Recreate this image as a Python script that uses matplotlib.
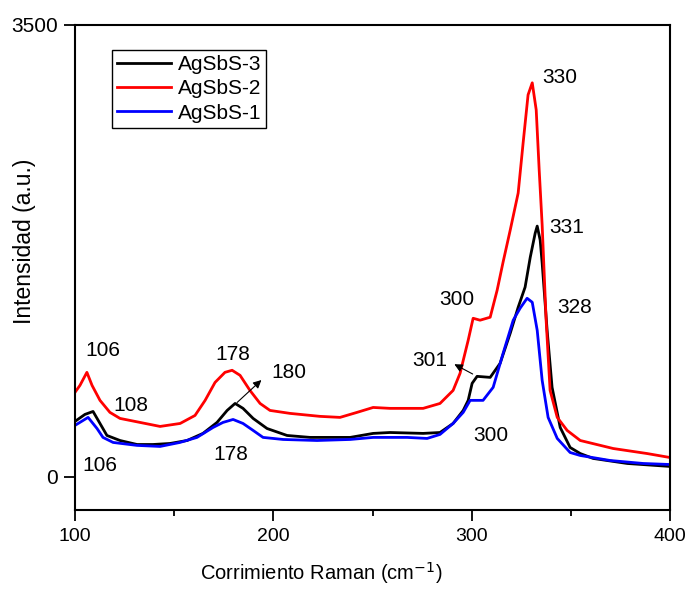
import matplotlib
matplotlib.use("Agg")
from matplotlib import pyplot as plt

plt.rcParams["font.family"] = ["Liberation Sans", "DejaVu Sans"]

# AgSbS-2 (red)
x_red = [100, 102.5, 106, 108.6, 112.6, 117.6, 122.7, 132.8, 142.9, 153, 160.5,
         165.6, 170.6, 175.6, 179.2, 183.2, 188.2, 193.3, 198.3, 208.4, 223.5,
         233.6, 242.2, 250.3, 258.8, 275.5, 284, 290.6, 294.1, 298.2, 300.7,
         304.2, 309.3, 312.8, 315.8, 319.4, 323.4, 325.9, 328.4, 330.5, 332.5,
         334, 335.5, 337.5, 339.5, 343.1, 348.1, 354.7, 371.3, 388.4, 400]
y_red = [652, 706, 807, 706, 590, 497, 450, 419, 388, 411, 473,
         590, 729, 807, 823, 784, 667, 566, 512, 489, 466,
         458, 497, 535, 528, 528, 566, 667, 799, 1055, 1226,
         1211, 1234, 1443, 1661, 1909, 2196, 2584, 2957, 3050, 2840,
         2375, 1948, 1211, 667, 458, 357, 279, 217, 178, 147]

# AgSbS-3 (black)
x_black = [100, 105, 109.1, 112.6, 116.1, 122.7, 131.3, 139.3, 147.9, 156.5,
           164.5, 171.6, 176.7, 180.7, 184.7, 189.8, 196.8, 206.9, 218.5,
           230.1, 238.7, 250.3, 258.8, 275.5, 284, 290.6, 295.7, 298.2, 300.2,
           302.7, 309.3, 314.3, 319.4, 323.4, 326.9, 329.5, 332, 333, 334.5,
           335.5, 338, 340.5, 344.6, 349.6, 354.7, 361.2, 378.4, 400]
y_black = [427, 481, 504, 411, 318, 279, 248, 248, 256, 279,
           334, 419, 512, 566, 528, 450, 372, 318, 303,
           303, 303, 334, 341, 334, 341, 411, 512, 590, 722,
           776, 768, 877, 1110, 1311, 1467, 1699, 1886, 1940, 1831,
           1653, 1133, 691, 380, 225, 178, 140, 101, 78]

# AgSbS-1 (blue)
x_blue = [100, 106.6, 111.1, 114.1, 119.2, 131.3, 142.9, 152.9, 161.5, 169.6,
          174.6, 179.7, 184.7, 189.8, 194.8, 204.9, 222, 238.7, 250.3, 267.4,
          277.5, 284, 290.6, 295.7, 299.2, 305.7, 310.8, 315.8, 320.9, 324.4,
          327.9, 330.5, 333, 335.5, 338.5, 343.1, 349.6, 354.7, 369.8, 386.4, 400]
y_blue = [396, 458, 372, 303, 264, 241, 233, 264, 303, 380,
          419, 442, 411, 357, 303, 287, 279, 287, 303, 303,
          295, 326, 411, 497, 590, 590, 691, 954, 1211, 1304,
          1381, 1350, 1133, 745, 458, 295, 186, 163, 124, 101, 93]

# peak labels: text, x, y
labels = [("106", 114, 978), ("108", 128, 551), ("106", 112.5, 85),
          ("178", 179.5, 947), ("178", 178.5, 171), ("180", 208, 807),
          ("300", 292.5, 1370), ("301", 279, 896), ("300", 309.5, 318),
          ("330", 344.5, 3088), ("331", 348, 1932), ("328", 352, 1311)]


def main():
    fig = plt.figure(figsize=(6.88, 5.89), dpi=100)
    ax = fig.add_axes([0.109, 0.134, 0.865, 0.824])

    ax.plot(x_black, y_black, color="black", lw=2, label="AgSbS-3")
    ax.plot(x_red, y_red, color="#ff0000", lw=2, label="AgSbS-2")
    ax.plot(x_blue, y_blue, color="#0000ff", lw=2, label="AgSbS-1")

    for txt, x, y in labels:
        ax.text(x, y, txt, fontsize=15, ha="center", va="center")

    arrow = dict(arrowstyle="-|>", color="black", lw=0.8, mutation_scale=12)
    ax.annotate("", xy=(195, 762), xytext=(180.7, 559), arrowprops=arrow)
    ax.annotate("", xy=(290, 880), xytext=(301.7, 784), arrowprops=arrow)

    ax.set_xlim(100, 400)
    ax.set_ylim(-260, 3500)
    ax.set_xticks([100, 200, 300, 400])
    ax.set_xticks([150, 250, 350], minor=True)
    ax.set_yticks([0, 3500])
    ax.tick_params(axis="both", direction="out", length=8, width=1.3)
    ax.tick_params(axis="x", labelsize=14, pad=5)
    ax.tick_params(axis="y", labelsize=15, pad=4)
    ax.tick_params(axis="x", which="minor", direction="out", length=4, width=1.3)
    for s in ax.spines.values():
        s.set_linewidth(1.5)

    ax.set_xlabel("Corrimiento Raman (cm$^{-1}$)", fontsize=14.5)
    ax.set_ylabel("Intensidad (a.u.)", fontsize=16.5)
    ax.xaxis.set_label_coords(0.413, -0.103)
    ax.yaxis.set_label_coords(-0.066, 0.553)

    leg = ax.legend(loc="upper left", bbox_to_anchor=(0.062, 0.948), fontsize=15,
                    fancybox=False, framealpha=1, edgecolor="black",
                    handlelength=2.6, borderpad=0.25, labelspacing=0.25,
                    handletextpad=0.3, borderaxespad=0)
    leg.get_frame().set_linewidth(1.0)

    fig.savefig("out.png", dpi=100)


if __name__ == "__main__":
    main()
